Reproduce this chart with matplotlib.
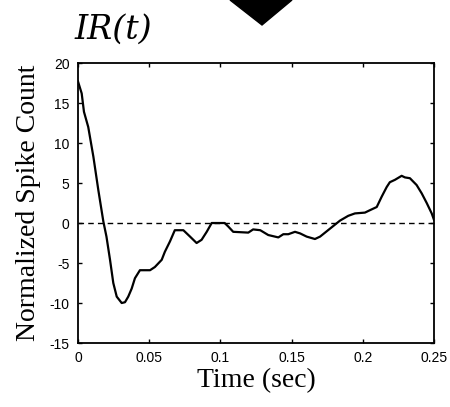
import matplotlib
matplotlib.use("Agg")
import matplotlib.pyplot as plt
from matplotlib.patches import Polygon

# impulse response IR(t)
t = [0.0, 0.0026, 0.0042, 0.0072, 0.0108, 0.0143, 0.0178, 0.020, 0.0225, 0.0248,
     0.0272, 0.0307, 0.033, 0.0353, 0.0377, 0.040, 0.0435, 0.0506, 0.054, 0.0588,
     0.061, 0.0646, 0.068, 0.074, 0.0787, 0.0833, 0.0868, 0.0904, 0.0939, 0.103,
     0.1056, 0.109, 0.1196, 0.123, 0.128, 0.1336, 0.1407, 0.1442, 0.1477, 0.1524,
     0.156, 0.1606, 0.1664, 0.170, 0.177, 0.184, 0.1898, 0.1945, 0.2015, 0.205,
     0.2098, 0.2133, 0.2168, 0.219, 0.2226, 0.2273, 0.2296, 0.2331, 0.2378, 0.2414,
     0.2449, 0.2484, 0.25]
ir = [17.7, 16.2, 13.9, 12.0, 8.3, 4.1, 0.2, -1.7, -4.6, -7.5,
      -9.2, -10.0, -9.9, -9.2, -8.2, -6.9, -5.9, -5.9, -5.5, -4.6,
      -3.6, -2.3, -0.9, -0.9, -1.7, -2.5, -2.1, -1.1, 0.0, 0.0,
      -0.45, -1.1, -1.2, -0.8, -0.9, -1.5, -1.8, -1.4, -1.4, -1.1,
      -1.3, -1.7, -2.0, -1.7, -0.7, 0.3, 0.9, 1.2, 1.3, 1.6,
      2.0, 3.3, 4.5, 5.1, 5.4, 5.9, 5.7, 5.6, 4.75, 3.7,
      2.5, 1.2, 0.4]

xticks = [0, 0.05, 0.1, 0.15, 0.2, 0.25]
xticklabels = ["0", "0.05", "0.1", "0.15", "0.2", "0.25"]
yticks = [-15, -10, -5, 0, 5, 10, 15, 20]

fig = plt.figure(figsize=(4.5, 4.07), dpi=100)
ax = fig.add_axes([0.1733, 0.1572, 0.7911, 0.688])

ax.plot(t, ir, color="black", lw=1.6)
ax.axhline(0, color="black", lw=1.0, ls=(0, (4, 3)))

ax.set_xlim(0, 0.25)
ax.set_ylim(-15, 20)
ax.set_xticks(xticks)
ax.set_xticklabels(xticklabels, fontfamily="Liberation Sans", fontsize=10)
ax.set_yticks(yticks)
ax.set_yticklabels([str(v) for v in yticks], fontfamily="Liberation Sans", fontsize=10)
ax.tick_params(direction="in", top=True, right=True, length=3, width=1, pad=6)
for s in ax.spines.values():
    s.set_linewidth(1.3)

ax.set_xlabel("Time (sec)", fontfamily="Liberation Serif", fontsize=20, labelpad=2)
ax.set_ylabel("Normalized Spike Count", fontfamily="Liberation Serif", fontsize=20, labelpad=6)

fig.text(75 / 450, 1 - 46 / 407, "IR(t)", fontfamily="DejaVu Serif", style="italic",
         fontsize=24, ha="left", va="bottom")

# scan artifact at top centre
fig.patches.append(Polygon([(230 / 450, 1.0), (292 / 450, 1.0), (262 / 450, 1 - 25 / 407)],
                           closed=True, transform=fig.transFigure, color="black"))

fig.savefig("out.png", dpi=100)
